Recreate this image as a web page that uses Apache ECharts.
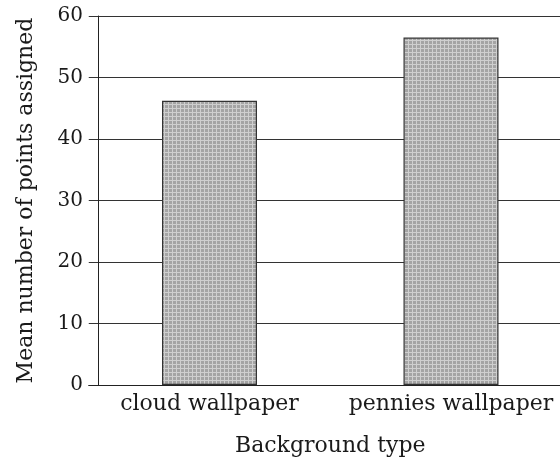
<!DOCTYPE html>
<html>
<head>
<meta charset="utf-8">
<script src="https://cdn.jsdelivr.net/npm/echarts@6/dist/echarts.min.js"></script>
<style>
html,body{margin:0;padding:0;background:#fff;}
#chart{width:560px;height:461px;}
</style>
</head>
<body>
<div id="chart"></div>
<script>
const categories = ['cloud wallpaper', 'pennies wallpaper'];
const meanPoints = [46.2, 56.5];
const yTicks = [0, 10, 20, 30, 40, 50, 60];

// fine cross-hatch fill like the printed bars
const pat = document.createElement('canvas');
pat.width = 4; pat.height = 4;
const pctx = pat.getContext('2d');
pctx.fillStyle = '#a4a4a4';
pctx.fillRect(0, 0, 4, 4);
pctx.fillStyle = '#cfcfcf';
pctx.fillRect(0, 0, 4, 1);
pctx.fillRect(0, 0, 1, 4);

const FONT = 'DejaVu Serif';
const chart = echarts.init(document.getElementById('chart'), null, {renderer: 'canvas'});
chart.setOption({
  animation: false,
  backgroundColor: '#fff',
  grid: {left: 88.75, right: -11.75, top: 16, bottom: 76, containLabel: false, outerBoundsMode: 'none'},
  xAxis: {
    type: 'category',
    data: categories,
    name: 'Background type',
    nameLocation: 'middle',
    nameGap: 50,
    nameTextStyle: {fontFamily: FONT, fontSize: 22, color: '#1a1a1a'},
    axisLine: {lineStyle: {color: '#222', width: 1}},
    axisTick: {show: false},
    axisLabel: {fontFamily: FONT, fontSize: 22, color: '#1a1a1a', margin: 8, interval: 0, hideOverlap: false},
    splitLine: {show: false}
  },
  yAxis: {
    type: 'value',
    min: yTicks[0],
    max: yTicks[yTicks.length - 1],
    interval: 10,
    offset: -9.25,
    name: 'Mean number of points assigned',
    nameLocation: 'middle',
    nameGap: 61,
    nameTextStyle: {fontFamily: FONT, fontSize: 22, color: '#1a1a1a'},
    axisLine: {show: true, lineStyle: {color: '#222', width: 1}},
    axisTick: {show: false},
    axisLabel: {fontFamily: FONT, fontSize: 20, color: '#1a1a1a', margin: 15},
    splitLine: {show: true, lineStyle: {color: '#333', width: 1}}
  },
  series: [{
    type: 'bar',
    data: meanPoints,
    barWidth: 95,
    itemStyle: {
      color: {image: pat, repeat: 'repeat'},
      borderColor: '#333',
      borderWidth: 1.2
    }
  }]
});
</script>
</body>
</html>
